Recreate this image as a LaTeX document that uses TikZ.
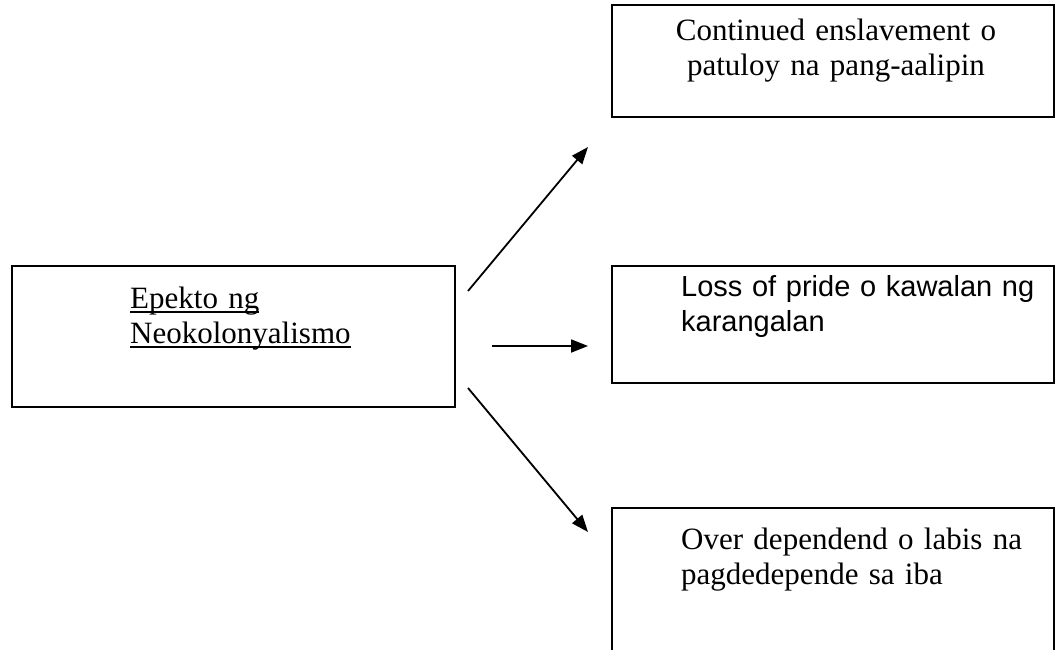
\documentclass[tikz,border=0pt]{standalone}
\usepackage{fontspec}
\setmainfont{Liberation Serif}
\newfontfamily\arialfont{Liberation Sans}
\usetikzlibrary{arrows.meta}

\newcommand{\wordline}[1]{\leavevmode\setbox0\hbox{#1}\rlap{\vrule height -3pt depth 5pt width \wd0}\box0}

\tikzset{
    box/.style={draw, line width=1.8pt, inner sep=0pt},
    link/.style={line width=1.8pt, -{Triangle[length=17pt,width=13pt]}},
    label/.style={inner sep=0pt, text width=#1, align=left, font=\fontsize{31}{35}\selectfont,
        execute at begin node={\setlength{\baselineskip}{35pt}}},
}

\begin{document}
\begin{tikzpicture}[x=1pt, y=-1pt]
            \clip (0,0) rectangle (1055,650);
            \fill[white] (0,0) rectangle (1055,650);

            % boxes
            \node[box, minimum width=443pt, minimum height=141pt] (cause) at (233.5,336.5) {};
            \node[box, minimum width=442pt, minimum height=112pt] (effA) at (833,61) {};
            \node[box, minimum width=442pt, minimum height=117pt] (effB) at (833,324.5) {};
            \node[box, minimum width=442pt, minimum height=162pt] (effC) at (833,589) {};

            % texts
            \node[label=330pt, anchor=base west] (causetext) at (130,308) {\wordline{Epekto ng}\\\wordline{Neokolonyalismo}};
            \node[label=420pt, align=center, anchor=base] (effAtext) at (836,41) {Continued enslavement o\\patuloy na pang-aalipin};
            \node[label=365pt, anchor=base west, font=\arialfont\fontsize{29}{34}\selectfont] (effBtext) at (681,296) {Loss of pride o kawalan ng\\karangalan};
            \node[label=365pt, anchor=base west] (effCtext) at (681,549) {Over dependend o labis na\\pagdedepende sa iba};

            % arrows
            \coordinate (up0) at (468,291);
            \coordinate (up1) at (588,147);
            \coordinate (mid0) at (492,346);
            \coordinate (mid1) at (588,346);
            \coordinate (low0) at (468,388);
            \coordinate (low1) at (588,532);

            \draw[link] (up0) -- (up1);
            \draw[link] (mid0) -- (mid1);
            \draw[link] (low0) -- (low1);
\end{tikzpicture}
\end{document}
